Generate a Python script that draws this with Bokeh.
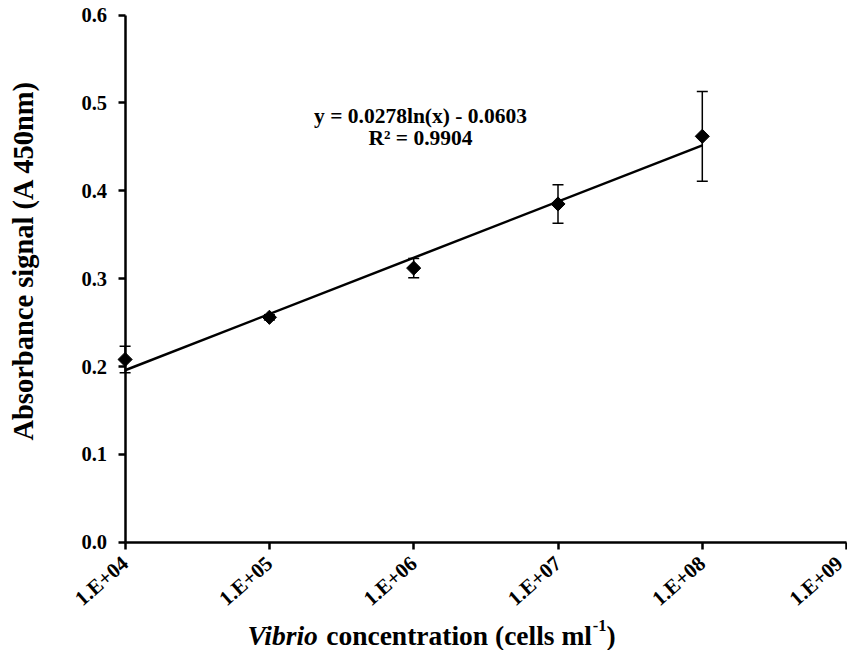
import math
from bokeh.plotting import figure
from bokeh.models import (ColumnDataSource, Whisker, TeeHead, Label, FixedTicker,
                          NumeralTickFormatter, CustomJSTickFormatter)
from bokeh.embed import file_html
from bokeh.resources import INLINE

# ---- data ----
concentration = [1e4, 1e5, 1e6, 1e7, 1e8]
absorbance = [0.208, 0.256, 0.312, 0.385, 0.462]
abs_error = [0.015, 0.003, 0.011, 0.022, 0.051]

fit_slope = 0.0278
fit_intercept = -0.0603
fit_r2 = 0.9904

x_tick_values = [1e4, 1e5, 1e6, 1e7, 1e8, 1e9]
x_tick_labels = ["1.E+04", "1.E+05", "1.E+06", "1.E+07", "1.E+08", "1.E+09"]
y_tick_values = [0.0, 0.1, 0.2, 0.3, 0.4, 0.5, 0.6]

FONT = "Liberation Serif"

# ---- layout (pixels) ----
W, H = 847, 650
origin_px_x = 124.6       # y axis position from canvas left
px_per_decade = 144.3
origin_px_y = 541.7       # y = 0 position from canvas top
px_per_unit = 878.5

x_lo = 10 ** (4 - origin_px_x / px_per_decade)
x_hi = 10 ** (4 + (W - origin_px_x) / px_per_decade)
y_hi = origin_px_y / px_per_unit
y_lo = -(H - origin_px_y) / px_per_unit

p = figure(width=W, height=H, x_axis_type="log",
           x_range=(x_lo, x_hi), y_range=(y_lo, y_hi),
           output_backend="svg", toolbar_location=None,
           min_border_left=0, min_border_right=0,
           min_border_top=0, min_border_bottom=0)
p.outline_line_color = None
p.xgrid.grid_line_color = None
p.ygrid.grid_line_color = None
p.background_fill_color = "white"
p.border_fill_color = "white"

for ax in (p.xaxis[0], p.yaxis[0]):
    ax.axis_line_width = 2.5
    ax.axis_line_color = "black"
    ax.major_tick_line_width = 2.5
    ax.major_tick_line_color = "black"
    ax.major_tick_in = 0
    ax.major_tick_out = 7
    ax.minor_tick_line_color = None
    ax.major_label_text_font = FONT
    ax.major_label_text_font_style = "bold"
    ax.major_label_text_color = "black"

p.yaxis.fixed_location = x_tick_values[0]
p.yaxis.bounds = (y_tick_values[0], y_tick_values[-1])
p.yaxis.ticker = FixedTicker(ticks=y_tick_values)
p.yaxis.formatter = NumeralTickFormatter(format="0.0")
p.yaxis.major_label_text_font_size = "20.5px"
p.yaxis.major_label_standoff = 11

p.xaxis.fixed_location = y_tick_values[0]
p.xaxis.bounds = (x_tick_values[0], x_tick_values[-1])
p.xaxis.ticker = FixedTicker(ticks=x_tick_values)
p.xaxis.formatter = CustomJSTickFormatter(
    args=dict(vals=x_tick_values, labs=x_tick_labels),
    code="""
    for (let i = 0; i < vals.length; i++) {
        if (Math.abs(Math.log10(vals[i]) - Math.log10(tick)) < 1e-6) return labs[i];
    }
    return '';
    """)
p.xaxis.major_label_text_font_size = "21px"
p.xaxis.major_label_orientation = 0.72
p.xaxis.major_label_standoff = 11

# trendline from the fitted equation
x_fit = [concentration[0], concentration[-1]]
y_fit = [fit_slope * math.log(v) + fit_intercept for v in x_fit]
p.line(x_fit, y_fit, line_color="black", line_width=2.5)

src = ColumnDataSource(dict(
    x=concentration, y=absorbance,
    upper=[a + e for a, e in zip(absorbance, abs_error)],
    lower=[a - e for a, e in zip(absorbance, abs_error)],
))
p.add_layout(Whisker(source=src, base="x", upper="upper", lower="lower",
                     line_color="black", line_width=1.5,
                     upper_head=TeeHead(size=11, line_color="black", line_width=1.5),
                     lower_head=TeeHead(size=11, line_color="black", line_width=1.5)))
p.scatter("x", "y", source=src, marker="square", angle=math.pi / 4, size=10,
          fill_color="black", line_color="black")


def add_text(text, dx, dy, size, style="bold", align="left", baseline="alphabetic", angle=0.0):
    """Place a text at a pixel offset from the axes origin (1E+04, 0)."""
    p.add_layout(Label(x=x_tick_values[0], y=y_tick_values[0], x_offset=dx, y_offset=dy,
                       text=text, angle=angle, text_font=FONT, text_font_style=style,
                       text_font_size="%.1fpx" % size, text_align=align,
                       text_baseline=baseline, text_color="black"))


# equation annotation
eq1 = "y = %.4fln(x) - %.4f" % (fit_slope, -fit_intercept)
eq2 = "R\u00b2 = %.4f" % fit_r2
add_text(eq1, 295.4, 426.7, 21.5, align="center", baseline="middle")
add_text(eq2, 295.4, 404.1, 21.5, align="center", baseline="middle")

# y axis title
add_text("Absorbance signal (A 450nm)", -102, 281.7, 28.5, align="center",
         baseline="middle", angle=math.pi / 2)

# x axis title pieces: (text, style, size, raise, advance in em of main size)
fs = 27.5
sup = 16.5
pieces = [
    ("Vibrio", "bold italic", fs, 0, 2.612 + 0.25),
    ("concentration (cells ml", "bold", fs, 0, 9.665 + 0.03),
    ("-1", "bold", sup, 10, 0.833 * sup / fs),
    (")", "bold", fs, 0, 0.333),
]
off = 122.4
for txt, style, size, raise_px, em in pieces:
    add_text(txt, off, -93 + raise_px, size, style=style)
    off += em * fs

open("out.html", "w").write(file_html(p, INLINE))
